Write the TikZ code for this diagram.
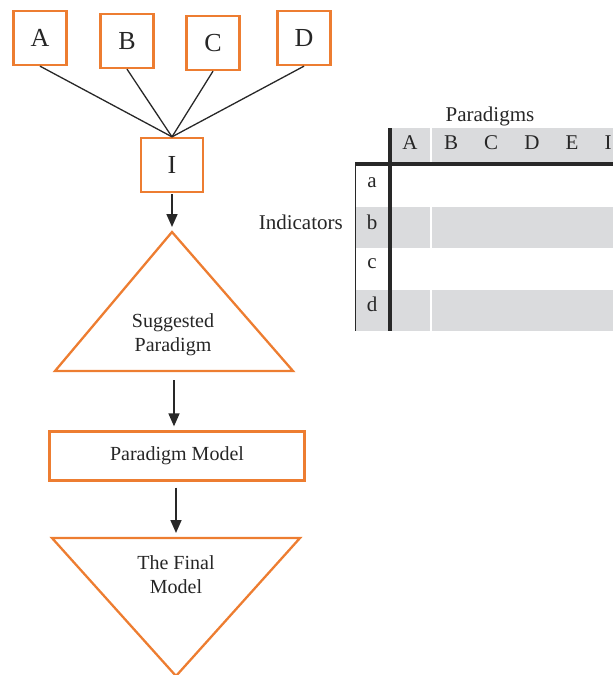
\documentclass[tikz,border=0pt]{standalone}
\usepackage{fontspec}
\setmainfont{Liberation Serif}
\usetikzlibrary{arrows.meta, positioning}
\definecolor{boxorange}{RGB}{237,125,49}
\definecolor{cellgray}{RGB}{218,219,221}
\definecolor{linegray}{RGB}{40,40,40}

\begin{document}
\begin{tikzpicture}[
        x=1pt, y=-1pt,
        box/.style={draw=boxorange, line width=2.3pt, minimum width=53pt, minimum height=54pt, inner sep=0pt, font=\fontsize{26}{26}\selectfont},
        flowtext/.style={align=center, font=\fontsize{20}{24}\selectfont},
        shape line/.style={draw=boxorange, line width=2.3pt, line join=miter},
        link/.style={draw=linegray, line width=1.3pt},
        arr/.style={draw=linegray, line width=1.6pt, -{Triangle[length=13pt, width=11pt]}},
        tabtext/.style={font=\fontsize{21}{21}\selectfont, inner sep=0pt},
        every node/.style={text=black!85}
    ]
        \useasboundingbox (0,0) rectangle (613,675);

        % inputs
        \node[box] (a) at (40,38) {A};
        \node[box] (b) at (127,41) {B};
        \node[box] (c) at (213,43) {C};
        \node[box] (d) at (304,38) {D};
        \node[box, minimum width=62pt] (i) at (172,165) {I};
        \foreach \n in {a,b,c,d}
            \draw[link] (\n.south) -- (i.north);

        % suggested paradigm
        \draw[shape line] (172,232) coordinate (sp top) -- (293,371) -- (55,371) coordinate (sp left) -- cycle;
        \coordinate (sp base) at (174,371);
        \node[flowtext] (sp) at (173,335) {Suggested\\Paradigm};
        \draw[arr, shorten <=1pt, shorten >=5pt] (i.south) -- (sp top);

        % paradigm model
        \node[draw=boxorange, line width=2.3pt, minimum width=255pt, minimum height=49pt, flowtext] (pm) at (177,456) {Paradigm Model};
        \draw[arr, shorten <=9pt, shorten >=4pt] (sp base) -- (pm.north -| sp base);

        % final model
        \draw[shape line] (52,538) coordinate (fm left) -- (300,538) -- (176,676) -- cycle;
        \coordinate (fm top) at (176,538);
        \node[flowtext] (fm) at (176,575) {The Final\\Model};
        \draw[arr, shorten <=6pt, shorten >=5pt] (pm.south -| fm top) -- (fm top);

        % table
        \fill[cellgray] (392,128) rectangle (613,163);
        \fill[cellgray] (355,207) rectangle (613,248);
        \fill[cellgray] (355,290) rectangle (613,331);
        \draw[white, line width=1.5pt] (431,128) -- (431,331);
        \draw[linegray, line width=1pt] (355,164) -- (355,331);
        \draw[linegray, line width=3.2pt] (390,128) -- (390,331);
        \draw[linegray, line width=3.2pt] (355,164) -- (613,164);

        \node[tabtext] (par) at (490,116) {Paradigms};
        \node[tabtext, anchor=east] (ind) at (343,222) {Indicators};
        \foreach \c/\x in {A/410, B/451, C/491, D/532, E/572, I/608}
            \node[tabtext] (col\c) at (\x,143) {\c};
        \foreach \r/\y in {a/183, b/222, c/264, d/304}
            \node[tabtext] (row\r) at (372,\y) {\r};
    \end{tikzpicture}
\end{document}
